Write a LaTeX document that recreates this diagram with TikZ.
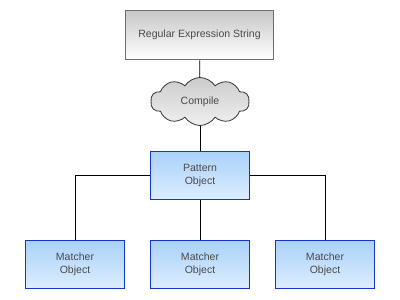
\documentclass[tikz,border=0pt]{standalone}
\usepackage{fontspec}
\setmainfont{Liberation Sans}
\usetikzlibrary{shapes.symbols}
\definecolor{txtgray}{HTML}{4A4A4A}
\definecolor{boxgray}{HTML}{6E6E6E}
\definecolor{boxblue}{HTML}{1435C8}
\definecolor{blutop}{HTML}{A9D1F9}
\definecolor{blubot}{HTML}{DDEEFE}
\begin{document}
\begin{tikzpicture}[
  x=0.75pt, y=-0.75pt,
  font=\fontsize{7.9}{9.4}\selectfont, text=txtgray,
  graybox/.style={draw=boxgray, line width=0.9pt, top color=black!22, bottom color=white, minimum width=111pt, minimum height=37pt, inner sep=0pt},
  objbox/.style={draw=boxblue, line width=0.9pt, top color=blutop, bottom color=blubot, align=center, minimum width=74pt, minimum height=36.5pt, inner sep=0pt},
  stepcloud/.style={cloud, cloud puffs=10, cloud puff arc=115, aspect=2.1, draw=black!80, line width=0.6pt, top color=black!20, bottom color=black!6, minimum width=74pt, minimum height=36pt, inner sep=0pt},
  link/.style={draw=black, line width=0.6pt}
]
\useasboundingbox (0,0) rectangle (400,300);
\node[graybox] (regex) at (199.5,35) {Regular Expression String};
\node[stepcloud] (compile) at (200,101.5) {Compile};
\node[objbox] (pattern) at (200,175.5) {Pattern\\Object};
\node[objbox] (matchA) at (75,264.5) {Matcher\\Object};
\node[objbox] (matchB) at (200,264.5) {Matcher\\Object};
\node[objbox] (matchC) at (325,264.5) {Matcher\\Object};
\draw[link] (regex) -- (compile);
\draw[link] (compile) -- (pattern);
\draw[link] (pattern.west) -| (matchA.north);
\draw[link] (pattern.south) -- (matchB.north);
\draw[link] (pattern.east) -| (matchC.north);
\end{tikzpicture}
\end{document}
